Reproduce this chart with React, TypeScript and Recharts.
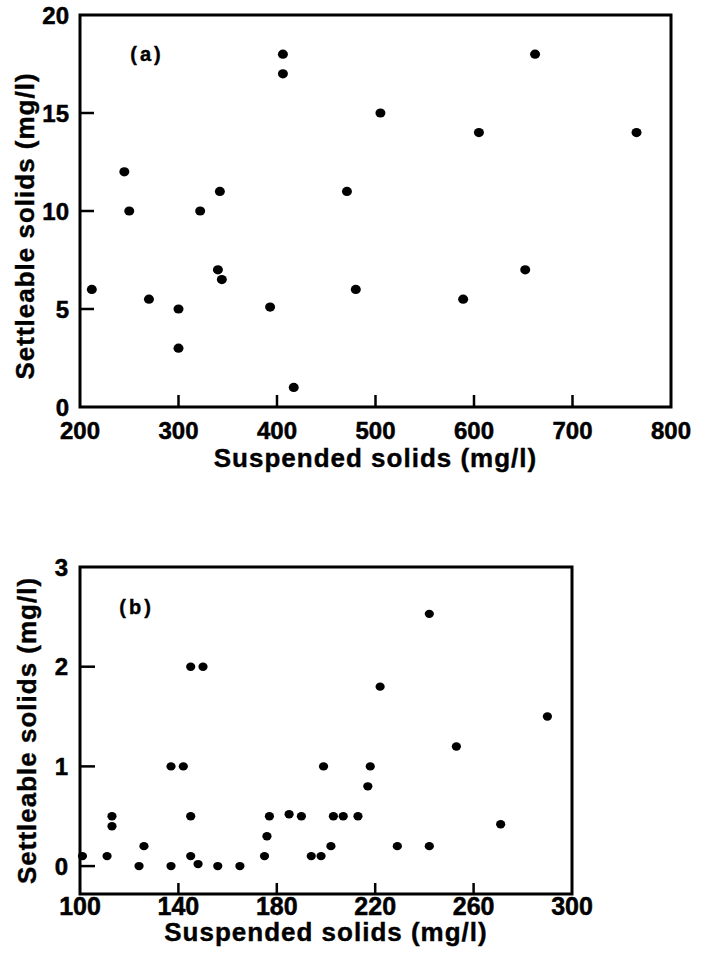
import React from 'react';
import { ScatterChart, Scatter, XAxis, YAxis, ReferenceArea, ReferenceDot, ReferenceLine, Label } from 'recharts';

// panel (a)
const suspendedA = [212, 245, 250, 270, 300, 300, 322, 340, 342, 344, 393, 406, 406, 417, 471, 480, 505, 589, 605, 652, 662, 765];
const settleableA = [6, 12, 10, 5.5, 5, 3, 10, 7, 11, 6.5, 5.1, 18, 17, 1, 11, 6, 15, 5.5, 14, 7, 18, 14];
const xTicksA = [200, 300, 400, 500, 600, 700, 800];
const yTicksA = [0, 5, 10, 15, 20];

// panel (b)
const suspendedB = [
  101, 111, 113, 113, 124, 126, 137, 142, 137, 145, 150, 145, 145, 148, 156, 165, 175, 176, 177,
  185, 190, 194, 198, 199, 202, 203, 207, 213, 218, 217, 222, 229, 242, 242, 253, 271, 290,
];
const settleableB = [
  0.1, 0.1, 0.5, 0.4, 0, 0.2, 1, 1, 0, 2, 2, 0.5, 0.1, 0.02, 0, 0, 0.1, 0.3, 0.5,
  0.52, 0.5, 0.1, 0.1, 1, 0.2, 0.5, 0.5, 0.5, 1, 0.8, 1.8, 0.2, 0.2, 2.53, 1.2, 0.42, 1.5,
];
const xTicksB = [100, 140, 180, 220, 260, 300];
const yTicksB = [0, 1, 2, 3];

const dataA = suspendedA.map((x, i) => ({ x, y: settleableA[i] }));
const dataB = suspendedB.map((x, i) => ({ x, y: settleableB[i] }));

const font = '"Liberation Sans", Arial, Helvetica, sans-serif';
const tickFont = { fill: '#000', fontSize: 24, fontWeight: 700, fontFamily: font, stroke: '#000', strokeWidth: 0.5 };
const titleFont = { fill: '#000', fontSize: 26, fontWeight: 700, fontFamily: font, letterSpacing: 1, stroke: '#000', strokeWidth: 0.4 };
const panelFont = { fill: '#000', fontSize: 20, fontWeight: 700, fontFamily: font, letterSpacing: 3, stroke: '#000', strokeWidth: 0.4 };

const Dot = (r: number) => (p: any) => <ellipse cx={p.cx} cy={p.cy} rx={r + 0.4} ry={r} fill="#000" />;

export default function App() {
  // inward tick lengths in data units (a: 19.6 px/unit y, 0.985 px/unit x; b: 99.5 px/unit y, 2.46 px/unit x)
  const tickA_x = 12 / 19.6;
  const tickA_y = 14 / 0.985;
  const tickB_x = 11 / 99.5;
  const tickB_y = 15 / 2.46;
  const seg = { stroke: '#000', strokeWidth: 2.5 };

  return (
    <div style={{ position: 'absolute', left: 0, top: 0, width: 701, height: 961, background: '#fff' }}>
      <div style={{ position: 'absolute', left: 0, top: 0 }}>
        <ScatterChart width={701} height={478} margin={{ top: 15, right: 30, bottom: 0, left: 0 }}>
          <XAxis
            type="number"
            dataKey="x"
            domain={[200, 800]}
            ticks={xTicksA}
            interval={0}
            height={71}
            axisLine={false}
            tickLine={false}
            tickSize={0}
            tickMargin={15}
            tick={tickFont}
          >
            <Label value="Suspended solids (mg/l)" position="insideBottom" offset={11} {...titleFont} />
          </XAxis>
          <YAxis
            type="number"
            dataKey="y"
            domain={[0, 20]}
            ticks={yTicksA}
            interval={0}
            width={80}
            axisLine={false}
            tickLine={false}
            tickSize={0}
            tickMargin={11}
            tick={tickFont}
          >
            <Label value="Settleable solids (mg/l)" angle={-90} position="center" dx={-15} dy={15} {...titleFont} />
          </YAxis>
          <ReferenceArea x1={200} x2={800} y1={0} y2={20} fill="none" stroke="#000" strokeWidth={3} fillOpacity={0} />
          {xTicksA.slice(1, -1).map((v) => (
            <ReferenceLine key={'xa' + v} segment={[{ x: v, y: 0 }, { x: v, y: tickA_x }]} {...seg} />
          ))}
          {yTicksA.slice(1, -1).map((v) => (
            <ReferenceLine key={'ya' + v} segment={[{ x: 200, y: v }, { x: 200 + tickA_y, y: v }]} {...seg} />
          ))}
          <ReferenceDot x={268} y={18} r={0} fill="none" stroke="none" label={{ value: '(a)', position: 'center', ...panelFont }} />
          <Scatter data={dataA} isAnimationActive={false} shape={Dot(4.6)} />
        </ScatterChart>
      </div>
      <div style={{ position: 'absolute', left: 0, top: 480 }}>
        <ScatterChart width={701} height={481} margin={{ top: 87, right: 129, bottom: 0, left: 0 }}>
          <XAxis
            type="number"
            dataKey="x"
            domain={[100, 300]}
            ticks={xTicksB}
            interval={0}
            height={67}
            axisLine={false}
            tickLine={false}
            tickSize={0}
            tickMargin={3}
            tick={{ ...tickFont, fontSize: 25 }}
          >
            <Label value="Suspended solids (mg/l)" position="insideBottom" offset={20} {...titleFont} />
          </XAxis>
          <YAxis
            type="number"
            dataKey="y"
            domain={[-0.28, 3]}
            ticks={yTicksB}
            interval={0}
            width={80}
            axisLine={false}
            tickLine={false}
            tickSize={0}
            tickMargin={12}
            tick={tickFont}
          >
            <Label value="Settleable solids (mg/l)" angle={-90} position="center" dx={-13} {...titleFont} />
          </YAxis>
          <ReferenceArea x1={100} x2={300} y1={-0.28} y2={3} fill="none" stroke="#000" strokeWidth={3} fillOpacity={0} />
          {xTicksB.slice(1, -1).map((v) => (
            <ReferenceLine key={'xb' + v} segment={[{ x: v, y: -0.28 }, { x: v, y: -0.28 + tickB_x }]} {...seg} />
          ))}
          {yTicksB.slice(0, -1).map((v) => (
            <ReferenceLine key={'yb' + v} segment={[{ x: 100, y: v }, { x: 100 + tickB_y, y: v }]} {...seg} />
          ))}
          <ReferenceDot x={123} y={2.6} r={0} fill="none" stroke="none" label={{ value: '(b)', position: 'center', ...panelFont }} />
          <Scatter data={dataB} isAnimationActive={false} shape={Dot(4.2)} />
        </ScatterChart>
      </div>
    </div>
  );
}
